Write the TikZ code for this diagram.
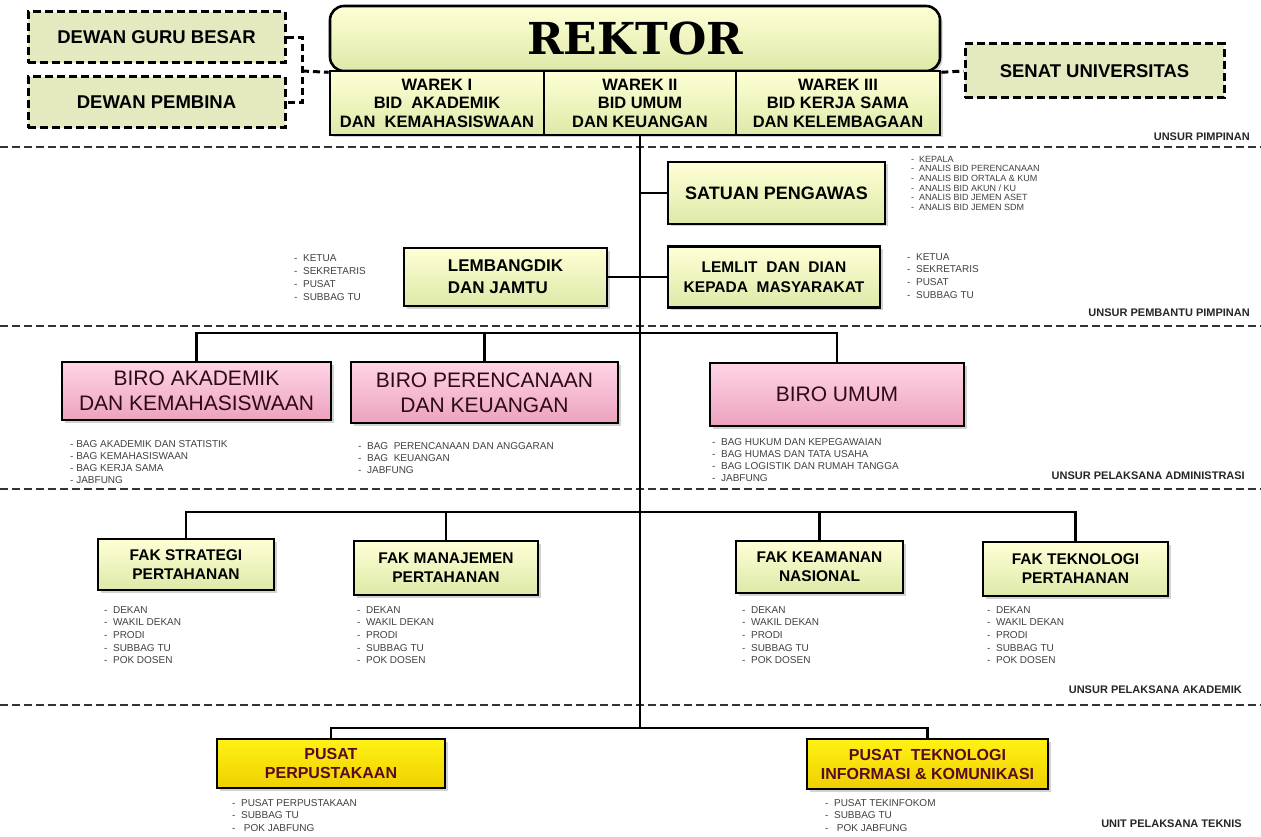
\documentclass[tikz,border=0pt]{standalone}
\usepackage{fontspec}
\setmainfont{Liberation Sans}
\newfontfamily\slabfont{DejaVu Serif}
\usetikzlibrary{shadows}

\definecolor{unittop}{RGB}{255,255,214}
\definecolor{unitbot}{RGB}{222,233,168}
\definecolor{birotop}{RGB}{255,212,230}
\definecolor{birobot}{RGB}{236,162,190}
\definecolor{pusattop}{RGB}{255,242,20}
\definecolor{pusatbot}{RGB}{238,208,0}
\definecolor{dewanfill}{RGB}{228,233,192}
\definecolor{marun}{RGB}{90,10,35}
\definecolor{biroink}{RGB}{45,10,22}

\newcommand{\fsz}[2]{\fontsize{#1}{#2}\selectfont}

\begin{document}
\begin{tikzpicture}[x=1pt, y=-1pt,
  unit/.style={draw, line width=2.6pt, inner sep=0pt, align=center,
    top color=unittop, bottom color=unitbot,
    drop shadow={shadow xshift=2.5pt, shadow yshift=-2.5pt, fill=black!35}},
  biro/.style={unit, top color=birotop, bottom color=birobot, text=biroink},
  pusat/.style={unit, top color=pusattop, bottom color=pusatbot, text=marun},
  dewan/.style={draw, line width=3pt, dash pattern=on 8pt off 4pt, fill=dewanfill,
    inner sep=0pt, font=\bfseries\fsz{18.5}{20}},
  duty/.style={anchor=north west, align=left, inner sep=0pt, text=black!75},
  tier/.style={anchor=east, inner sep=0pt, font=\bfseries\fsz{11}{13}, text=black!85},
  link/.style={line width=2.8pt},
  dashlink/.style={line width=3pt, dash pattern=on 7pt off 4pt},
  divider/.style={line width=2pt, dash pattern=on 8pt off 4pt, black!80}]

\useasboundingbox (0,0) rectangle (1261,837);

% garis batas unsur
\foreach \y in {147,326,489,705}
  \draw[divider] (0,\y) -- (1261,\y);

\node[tier] (tpimp) at (1250,137) {UNSUR PIMPINAN};
\node[tier] (tbantu) at (1250,313) {UNSUR PEMBANTU PIMPINAN};
\node[tier] (tadmin) at (1245,476) {UNSUR PELAKSANA ADMINISTRASI};
\node[tier] (takad) at (1242,690) {UNSUR PELAKSANA AKADEMIK};
\node[tier] (tteknis) at (1242,824) {UNIT PELAKSANA TEKNIS};

% pimpinan
\node[unit, rounded corners=14pt, minimum width=610pt, minimum height=65pt,
  font=\slabfont\bfseries\fsz{44}{48}] (rektor) at (635,38.5) {REKTOR};
\node[unit, minimum width=214pt, minimum height=64pt, font=\bfseries\fsz{16.5}{18.5}]
  (warI) at (437,103) {WAREK I\\BID~ AKADEMIK\\DAN~ KEMAHASISWAAN};
\node[unit, minimum width=192pt, minimum height=64pt, font=\bfseries\fsz{16.5}{18.5}]
  (warII) at (640,103) {WAREK II\\BID UMUM\\DAN KEUANGAN};
\node[unit, minimum width=204pt, minimum height=64pt, font=\bfseries\fsz{16.5}{18.5}]
  (warIII) at (838,103) {WAREK III\\BID KERJA SAMA\\DAN KELEMBAGAAN};

\node[dewan, minimum width=257pt, minimum height=51pt] (dgb) at (156.5,37.5) {DEWAN GURU BESAR};
\node[dewan, minimum width=257pt, minimum height=51pt] (dp) at (156.5,102.5) {DEWAN PEMBINA};
\node[dewan, minimum width=259pt, minimum height=54pt] (senat) at (1094.5,71) {SENAT UNIVERSITAS};

\coordinate (dj) at (302,71);
\draw[dashlink] (dgb.east) -| (dj) |- (dp.east);
\draw[dashlink] (dj) -- (rektor.south west);
\draw[dashlink] (rektor.south east) -- (senat.west);

% garis komando utama
\coordinate (bbus) at (640,333);
\coordinate (fbus) at (640,512);
\coordinate (pbus) at (640,728);
\draw[link] (warII.south) -- (pbus);

% pembantu pimpinan
\node[unit, minimum width=217pt, minimum height=62pt, font=\bfseries\fsz{18}{21}]
  (satwas) at (776.5,193) {SATUAN PENGAWAS};
\node[unit, minimum width=203pt, minimum height=58pt, align=left, font=\bfseries\fsz{17}{22}]
  (lembang) at (505.5,277) {LEMBANGDIK\\DAN JAMTU};
\node[unit, minimum width=212pt, minimum height=61pt, font=\bfseries\fsz{15.5}{20}]
  (lemlit) at (774,277) {LEMLIT~ DAN~ DIAN\\KEPADA~ MASYARAKAT};
\draw[link] (satwas.west) -- (satwas.west -| pbus);
\draw[link] (lembang.east) -- (lemlit.west);

\node[duty, font=\fsz{9}{9.6}] (lsatwas) at (911,156) {-~~KEPALA\\-~~ANALIS BID PERENCANAAN\\-~~ANALIS BID ORTALA \& KUM\\-~~ANALIS BID AKUN / KU\\-~~ANALIS BID JEMEN ASET\\-~~ANALIS BID JEMEN SDM};
\node[duty, font=\fsz{10}{13}] (llembang) at (294,254) {-~~KETUA\\-~~SEKRETARIS\\-~~PUSAT\\-~~SUBBAG TU};
\node[duty, font=\fsz{10}{12.7}] (llemlit) at (907,253) {-~~KETUA\\-~~SEKRETARIS\\-~~PUSAT\\-~~SUBBAG TU};

% pelaksana administrasi
\node[biro, minimum width=269pt, minimum height=58pt, font=\fsz{21}{25}]
  (birakad) at (196.5,391) {BIRO AKADEMIK\\DAN KEMAHASISWAAN};
\node[biro, minimum width=267pt, minimum height=61pt, font=\fsz{21}{25}]
  (birren) at (484.5,392.5) {BIRO PERENCANAAN\\DAN KEUANGAN};
\node[biro, minimum width=254pt, minimum height=63pt, font=\fsz{21}{25}]
  (birum) at (837,394.5) {BIRO UMUM};
\draw[link] (birakad.north) |- (bbus) -| (birum.north);
\draw[link] (birren.north) -- (birren.north |- bbus);

\node[duty, font=\fsz{10}{12}] (lbirakad) at (70,440) {- BAG AKADEMIK DAN STATISTIK\\- BAG KEMAHASISWAAN\\- BAG KERJA SAMA\\- JABFUNG};
\node[duty, font=\fsz{10}{12}] (lbirren) at (358,442) {-~~BAG~ PERENCANAAN DAN ANGGARAN\\-~~BAG~ KEUANGAN\\-~~JABFUNG};
\node[duty, font=\fsz{10}{12}] (lbirum) at (712,438) {-~~BAG HUKUM DAN KEPEGAWAIAN\\-~~BAG HUMAS DAN TATA USAHA\\-~~BAG LOGISTIK DAN RUMAH TANGGA\\-~~JABFUNG};

% pelaksana akademik
\node[unit, minimum width=176pt, minimum height=51pt, font=\bfseries\fsz{15.5}{19}]
  (fakstr) at (186,564.5) {FAK STRATEGI\\PERTAHANAN};
\node[unit, minimum width=184pt, minimum height=54pt, font=\bfseries\fsz{15.5}{19}]
  (fakman) at (446,568) {FAK MANAJEMEN\\PERTAHANAN};
\node[unit, minimum width=167pt, minimum height=52pt, font=\bfseries\fsz{15.5}{19}]
  (fakkam) at (819.5,567) {FAK KEAMANAN\\NASIONAL};
\node[unit, minimum width=185pt, minimum height=54pt, font=\bfseries\fsz{15.5}{19}]
  (faktek) at (1075.5,569) {FAK TEKNOLOGI\\PERTAHANAN};
\draw[link] (fakstr.north) |- (fbus) -| (faktek.north);
\draw[link] (fakman.north) -- (fakman.north |- fbus);
\draw[link] (fakkam.north) -- (fakkam.north |- fbus);

\foreach \f/\x in {fakstr/104, fakman/357, fakkam/742, faktek/987}
  \node[duty, font=\fsz{10}{12.7}] (l\f) at (\x,606) {-~~DEKAN\\-~~WAKIL DEKAN\\-~~PRODI\\-~~SUBBAG TU\\-~~POK DOSEN};

% pelaksana teknis
\node[pusat, minimum width=228pt, minimum height=49pt, font=\bfseries\fsz{16}{19}]
  (pusper) at (331,763.5) {PUSAT\\PERPUSTAKAAN};
\node[pusat, minimum width=241pt, minimum height=50pt, font=\bfseries\fsz{16}{19}]
  (pustik) at (927.5,764) {PUSAT~ TEKNOLOGI\\INFORMASI \& KOMUNIKASI};
\draw[link] (pusper.north) |- (pbus) -| (pustik.north);

\node[duty, font=\fsz{10}{12.5}] (lpusper) at (232,799) {-~~PUSAT PERPUSTAKAAN\\-~~SUBBAG TU\\-~~~POK JABFUNG};
\node[duty, font=\fsz{10}{12.5}] (lpustik) at (825,799) {-~~PUSAT TEKINFOKOM\\-~~SUBBAG TU\\-~~~POK JABFUNG};

\end{tikzpicture}
\end{document}
